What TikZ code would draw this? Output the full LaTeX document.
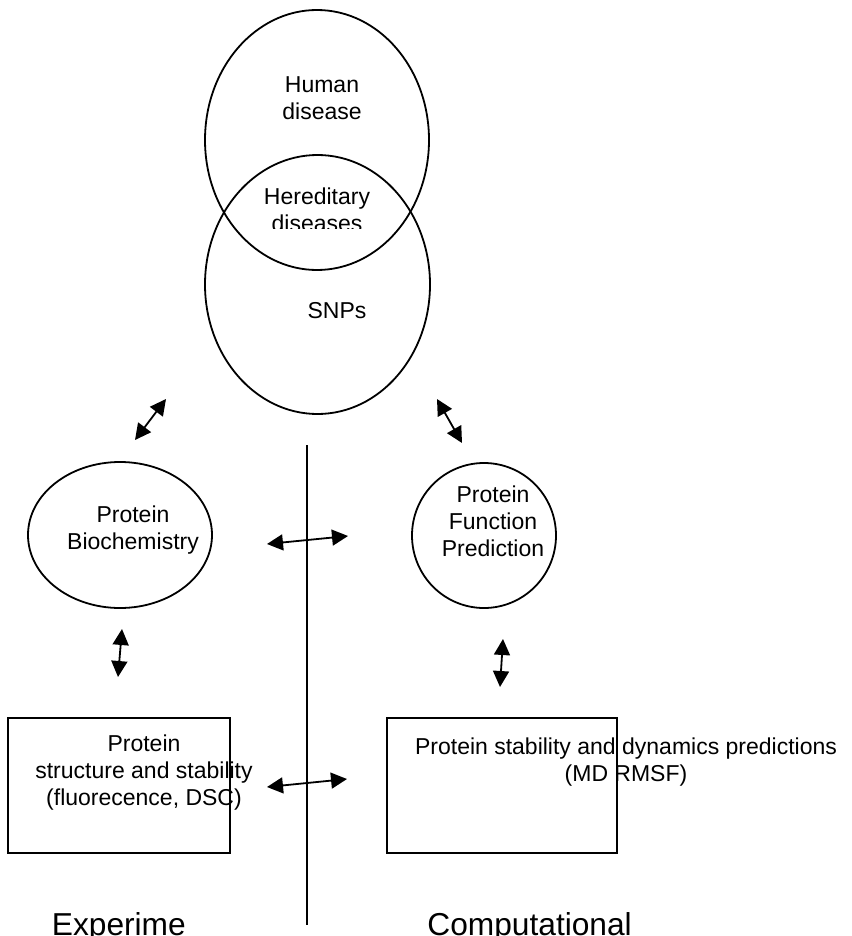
\documentclass[tikz,border=0pt]{standalone}
\usepackage{fontspec}
\setmainfont{Liberation Sans}
\usetikzlibrary{arrows.meta,shapes.geometric}

\begin{document}
\begin{tikzpicture}[x=1pt,y=-1pt,line width=1.8pt]
            \tikzstyle{blob}=[ellipse, draw, inner sep=0pt]
            \tikzstyle{box}=[rectangle, draw, inner sep=0pt]
            \tikzstyle{txt}=[align=center, inner sep=0pt, font=\fontsize{23}{27}\selectfont]
            \tikzstyle{big}=[anchor=base west, inner sep=0pt, font=\fontsize{31.7}{36}\selectfont]
            \tikzstyle{dbl}=[{Triangle[length=16pt,width=16pt]}-{Triangle[length=16pt,width=16pt]}]

            \useasboundingbox (0,0) rectangle (851,936);
            \clip (0,0) rectangle (851,936);

            % the two overlapping circles
            \node[blob, minimum width=224pt, minimum height=260pt] (hd)  at (317,140)   {};
            \node[blob, minimum width=225pt, minimum height=259pt] (snp) at (317.5,284.5) {};
            \node[txt] (hdt)  at (322,98)  {Human\\disease};
            \node[txt] (snpt) at (337,311) {SNPs};
            \begin{scope}
                \clip (200,150) rectangle (440,228.5);
                \node[txt] (her) at (317,210) {Hereditary\\diseases};
            \end{scope}

            % experimental side
            \node[blob, minimum width=184pt, minimum height=146pt] (bio) at (120,535) {};
            \node[txt] (biot) at (133,530.5) {Protein\\Biochemistry};
            \node[box, minimum width=222pt, minimum height=135pt] (str) at (119,785.5) {};
            \node[txt] (strt) at (144,773) {Protein\\structure and stability\\(fluorecence, DSC)};

            % computational side
            \node[blob, minimum width=144pt, minimum height=145pt] (fun) at (484,535.5) {};
            \node[txt] (funt) at (493,521) {Protein\\Function\\Prediction};
            \node[box, minimum width=230pt, minimum height=135pt] (dyn) at (502,785.5) {};
            \node[txt] (dynt) at (626,762.5) {Protein stability and dynamics predictions\\(MD RMSF)};

            \node[big] (exp) at (51,935.7)   {Experime};
            \node[big] (cmp) at (426.5,935.7) {Computational};

            % divider
            \coordinate (top) at (307,445);
            \coordinate (bot) at (307,925);
            \draw (top) -- (bot);

            % arrow ends
            \coordinate (a1) at (135,440);  \coordinate (b1) at (166,399);
            \coordinate (a2) at (437,399);  \coordinate (b2) at (462,443);
            \coordinate (a3) at (267,544);  \coordinate (b3) at (348,536);
            \coordinate (a4) at (122,629);  \coordinate (b4) at (118,677);
            \coordinate (a5) at (503,639);  \coordinate (b5) at (500,687);
            \coordinate (a6) at (267,787);  \coordinate (b6) at (347,779);

            \path[dbl]
                    (a1) edge (b1)
                    (a2) edge (b2)
                    (a3) edge (b3)
                    (a4) edge (b4)
                    (a5) edge (b5)
                    (a6) edge (b6)
                ;
\end{tikzpicture}
\end{document}
